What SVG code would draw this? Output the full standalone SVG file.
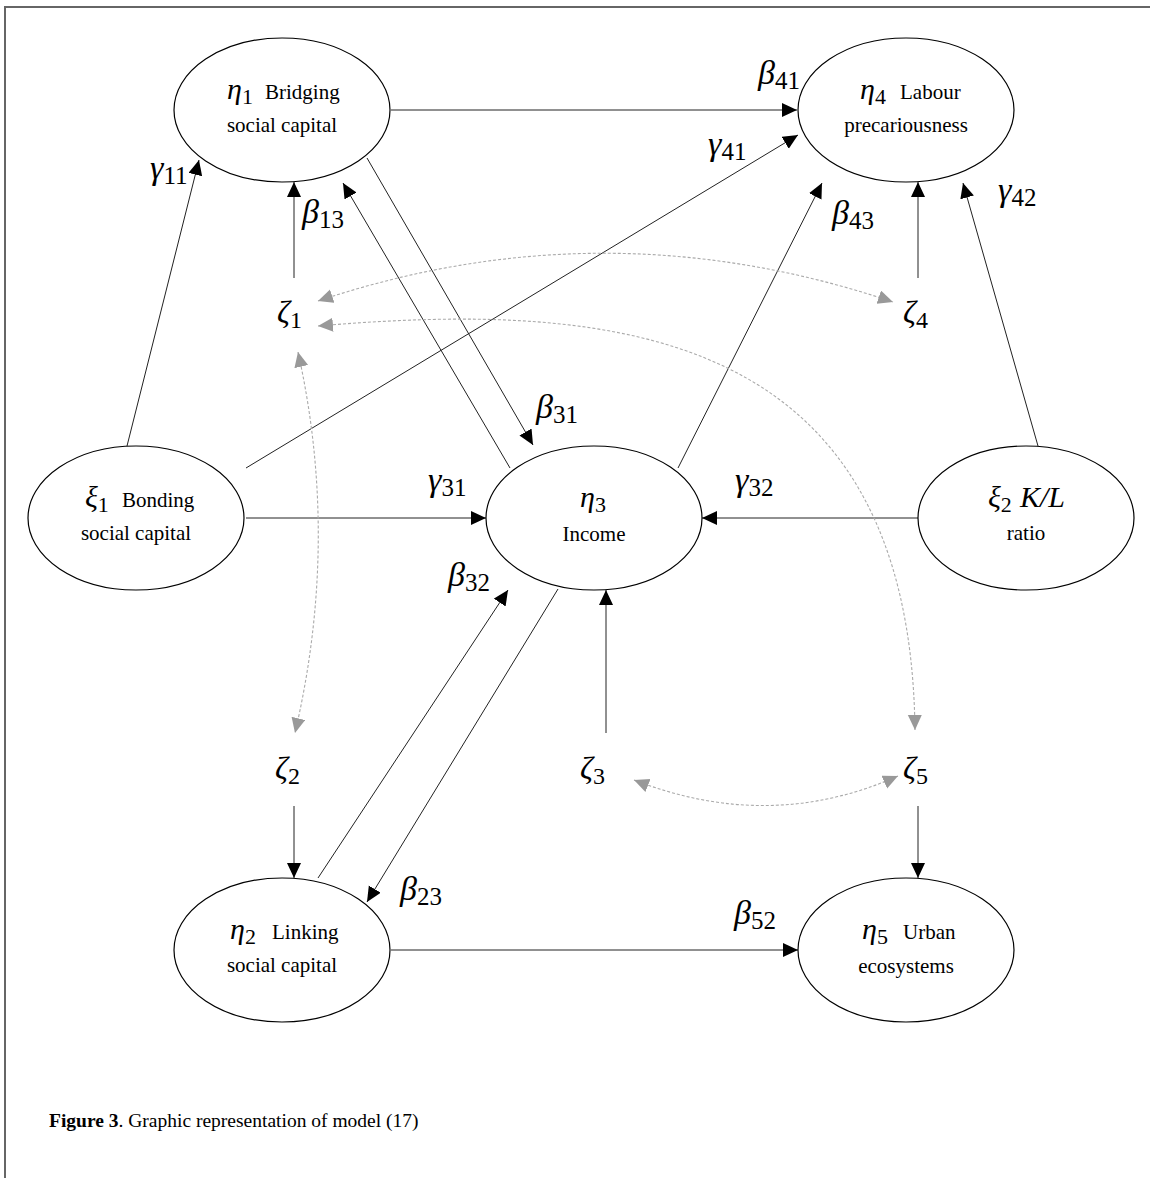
<svg xmlns="http://www.w3.org/2000/svg" width="1150" height="1178" viewBox="0 0 1150 1178">
<style>
.node{fill:#fff;stroke:#000;stroke-width:1.2}
.lbl{font-family:"Liberation Serif","Times New Roman",serif;font-size:21px;fill:#000}
.gr{font-family:"Liberation Serif","Times New Roman",serif;font-size:30px;font-style:italic;fill:#000}
.sub{font-style:normal;font-size:22px}
.el{font-family:"Liberation Serif","Times New Roman",serif;font-size:34px;font-style:italic;fill:#000}
.es{font-style:normal;font-size:25px}
.zl{font-family:"Liberation Serif","Times New Roman",serif;font-size:32px;font-style:italic;fill:#000}
.zs{font-style:normal;font-size:24px}
.edge{stroke:#222;stroke-width:1;fill:none}
.cov{stroke:#aaa;stroke-width:1.1;fill:none;stroke-dasharray:3 2}
.cap{font-family:"Liberation Serif","Times New Roman",serif;font-size:19.5px;fill:#000}
</style>
<defs>
<marker id="ah" markerUnits="userSpaceOnUse" markerWidth="16" markerHeight="15" refX="15" refY="7" orient="auto"><path d="M0,0 L15,7 L0,14 z" fill="#000"/></marker>
<marker id="ahg" markerUnits="userSpaceOnUse" markerWidth="16" markerHeight="15" refX="15" refY="7" orient="auto-start-reverse"><path d="M0,0 L15,7 L0,14 z" fill="#999"/></marker>
</defs>
<rect width="1150" height="1178" fill="#fff"/>
<path d="M5,1178 V7 H1150" fill="none" stroke="#666" stroke-width="2"/>

<g id="connectors">
<line class="edge" x1="391" y1="110" x2="797" y2="110" marker-end="url(#ah)"/>
<line class="edge" x1="246" y1="468" x2="798" y2="135" marker-end="url(#ah)"/>
<line class="edge" x1="127" y1="446" x2="199" y2="160" marker-end="url(#ah)"/>
<line class="edge" x1="294" y1="278" x2="294" y2="182" marker-end="url(#ah)"/>
<line class="edge" x1="510" y1="468" x2="343" y2="183" marker-end="url(#ah)"/>
<line class="edge" x1="367" y1="158" x2="533" y2="445" marker-end="url(#ah)"/>
<line class="edge" x1="678" y1="468" x2="822" y2="183" marker-end="url(#ah)"/>
<line class="edge" x1="918" y1="278" x2="918" y2="182" marker-end="url(#ah)"/>
<line class="edge" x1="1038" y1="446" x2="963" y2="183" marker-end="url(#ah)"/>
<line class="edge" x1="246" y1="518" x2="486" y2="518" marker-end="url(#ah)"/>
<line class="edge" x1="918" y1="518" x2="702" y2="518" marker-end="url(#ah)"/>
<line class="edge" x1="318" y1="878" x2="508" y2="590" marker-end="url(#ah)"/>
<line class="edge" x1="558" y1="589" x2="367" y2="902" marker-end="url(#ah)"/>
<line class="edge" x1="606" y1="733" x2="606" y2="590" marker-end="url(#ah)"/>
<line class="edge" x1="294" y1="806" x2="294" y2="878" marker-end="url(#ah)"/>
<line class="edge" x1="391" y1="950" x2="798" y2="950" marker-end="url(#ah)"/>
<line class="edge" x1="918" y1="806" x2="918" y2="878" marker-end="url(#ah)"/>
<path class="cov" d="M318,301 Q605,205 893,302" marker-start="url(#ahg)" marker-end="url(#ahg)"/>
<path class="cov" d="M318,326 C620,300 910,330 915,730" marker-start="url(#ahg)" marker-end="url(#ahg)"/>
<path class="cov" d="M298,352 Q340,540 295,733" marker-start="url(#ahg)" marker-end="url(#ahg)"/>
<path class="cov" d="M634,780 Q770,833 898,776" marker-start="url(#ahg)" marker-end="url(#ahg)"/>
</g>

<g id="eta1">
<ellipse class="node" cx="282" cy="110" rx="108" ry="72"/>
<text class="gr" x="227" y="99">η<tspan class="sub" dy="5">1</tspan></text>
<text class="lbl" x="265" y="99">Bridging</text>
<text class="lbl" x="282" y="132" text-anchor="middle">social capital</text>
</g>
<g id="eta4">
<ellipse class="node" cx="906" cy="110" rx="108" ry="72"/>
<text class="gr" x="860" y="99">η<tspan class="sub" dy="5">4</tspan></text>
<text class="lbl" x="900" y="99">Labour</text>
<text class="lbl" x="906" y="132" text-anchor="middle">precariousness</text>
</g>
<g id="xi1">
<ellipse class="node" cx="136" cy="518" rx="108" ry="72"/>
<text class="gr" x="85" y="507">ξ<tspan class="sub" dy="5">1</tspan></text>
<text class="lbl" x="122" y="507">Bonding</text>
<text class="lbl" x="136" y="540" text-anchor="middle">social capital</text>
</g>
<g id="eta3">
<ellipse class="node" cx="594" cy="518" rx="108" ry="72"/>
<text class="gr" x="580" y="507">η<tspan class="sub" dy="5">3</tspan></text>
<text class="lbl" x="594" y="541" text-anchor="middle">Income</text>
</g>
<g id="xi2">
<ellipse class="node" cx="1026" cy="518" rx="108" ry="72"/>
<text class="gr" x="988" y="507">ξ<tspan class="sub" dy="5">2</tspan></text>
<text class="gr" x="1020" y="507" font-size="32">K/L</text>
<text class="lbl" x="1026" y="540" text-anchor="middle">ratio</text>
</g>
<g id="eta2">
<ellipse class="node" cx="282" cy="950" rx="108" ry="72"/>
<text class="gr" x="230" y="939">η<tspan class="sub" dy="5">2</tspan></text>
<text class="lbl" x="272" y="939">Linking</text>
<text class="lbl" x="282" y="972" text-anchor="middle">social capital</text>
</g>
<g id="eta5">
<ellipse class="node" cx="906" cy="950" rx="108" ry="72"/>
<text class="gr" x="862" y="939">η<tspan class="sub" dy="5">5</tspan></text>
<text class="lbl" x="903" y="939">Urban</text>
<text class="lbl" x="906" y="973" text-anchor="middle">ecosystems</text>
</g>

<g id="zeta1"><text class="zl" x="277" y="323">ζ<tspan class="zs" dy="5">1</tspan></text></g>
<g id="zeta4"><text class="zl" x="903" y="323">ζ<tspan class="zs" dy="5">4</tspan></text></g>
<g id="zeta2"><text class="zl" x="275" y="779">ζ<tspan class="zs" dy="5">2</tspan></text></g>
<g id="zeta3"><text class="zl" x="580" y="779">ζ<tspan class="zs" dy="5">3</tspan></text></g>
<g id="zeta5"><text class="zl" x="903" y="779">ζ<tspan class="zs" dy="5">5</tspan></text></g>

<g id="labels">
<text class="el" x="150" y="179">γ<tspan class="es" dy="5">11</tspan></text>
<text class="el" x="302" y="223">β<tspan class="es" dy="5">13</tspan></text>
<text class="el" x="758" y="84">β<tspan class="es" dy="5">41</tspan></text>
<text class="el" x="708" y="155">γ<tspan class="es" dy="5">41</tspan></text>
<text class="el" x="832" y="224">β<tspan class="es" dy="5">43</tspan></text>
<text class="el" x="998" y="201">γ<tspan class="es" dy="5">42</tspan></text>
<text class="el" x="536" y="418">β<tspan class="es" dy="5">31</tspan></text>
<text class="el" x="428" y="491">γ<tspan class="es" dy="5">31</tspan></text>
<text class="el" x="735" y="491">γ<tspan class="es" dy="5">32</tspan></text>
<text class="el" x="448" y="586">β<tspan class="es" dy="5">32</tspan></text>
<text class="el" x="400" y="900">β<tspan class="es" dy="5">23</tspan></text>
<text class="el" x="734" y="924">β<tspan class="es" dy="5">52</tspan></text>
</g>

<g id="caption">
<text class="cap" x="49" y="1127"><tspan font-weight="bold">Figure 3</tspan>. Graphic representation of model (17)</text>
</g>
</svg>
